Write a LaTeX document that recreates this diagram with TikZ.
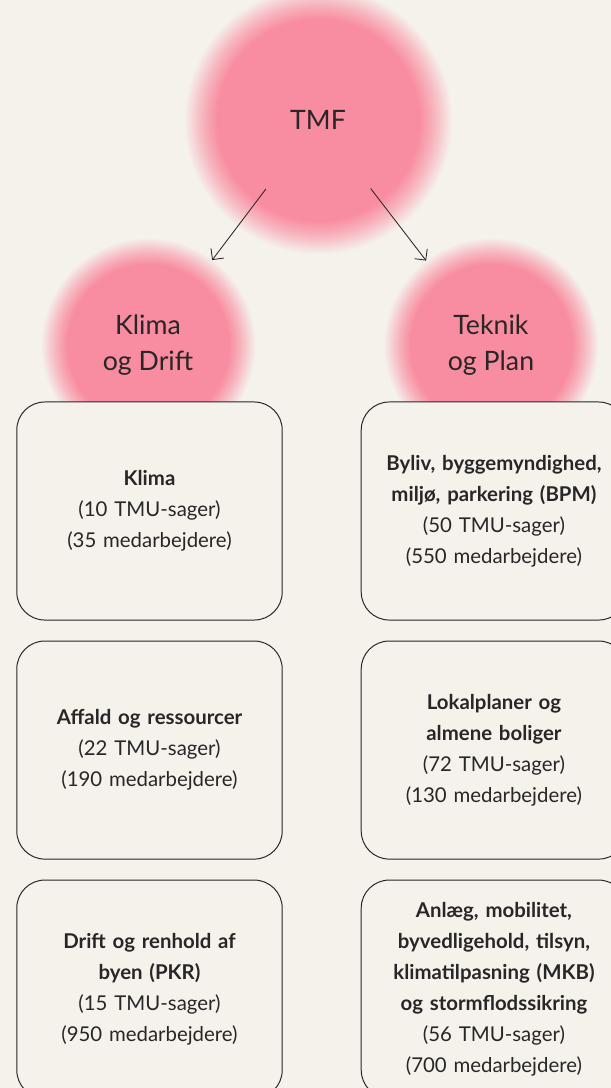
\documentclass[tikz,border=0pt]{standalone}
\usepackage{fontspec}
\setmainfont{Lato}
\usetikzlibrary{arrows.meta,positioning}

\definecolor{paper}{RGB}{245,242,236}
\definecolor{blobpink}{RGB}{248,140,160}
\definecolor{ink}{RGB}{40,38,38}

% soft pink disc, fading out at the rim
\pgfdeclareradialshading{blob}{\pgfpoint{0bp}{0bp}}{%
  color(0bp)=(blobpink); color(18bp)=(blobpink);
  color(21bp)=(blobpink!55!paper); color(24bp)=(paper); color(25bp)=(paper);
  color(50bp)=(paper)}

\begin{document}
\begin{tikzpicture}[
    x = 0.025cm, y = -0.025cm, % one unit is one pixel of the layout
    > = {Straight Barb[length=2mm,width=4mm]}, % thin open arrow head
    node distance = 0.5cm, % gap between the boxes
    semithick, % line style
    ink
    ]

    \tikzset{
    blob/.style = {circle, inner sep = 0pt, shading = blob, text = ink,
                   font = \fontsize{19}{26}\selectfont, align = center},
    box/.style = {draw = ink, line width = 0.7pt, fill = paper,
                  rounded corners = 0.7cm, minimum width = 6.625cm,
                  minimum height = 5.45cm, text width = 6.4cm, align = center,
                  font = \fontsize{14.5}{22}\selectfont, text = ink}
    }

    \fill[paper] (0,0) rectangle (611,1088);
    \useasboundingbox (0,0) rectangle (611,1088);
    \clip (0,0) rectangle (611,1088);

    % departments
    \node[blob, minimum size = 7cm] (tmf) at (318,120) {TMF};
    \node[blob, minimum size = 5.6cm] (klima) at (148,345) {Klima\\og Drift};
    \node[blob, minimum size = 5.6cm] (teknik) at (491,345) {Teknik\\og Plan};

    \path[->] (tmf) edge[shorten <= -1.35cm, shorten >= -0.15cm] (klima);
    \path[->] (tmf) edge[shorten <= -1.35cm, shorten >= -0.15cm] (teknik);

    % units under Klima og Drift
    \node[box] (k1) at (149.5,511)
        {\textbf{Klima}\\(10 TMU-sager)\\(35 medarbejdere)};
    \node[box] (k2) [below=of k1]
        {\textbf{Affald og ressourcer}\\(22 TMU-sager)\\(190 medarbejdere)};
    \node[box] (k3) [below=of k2]
        {\textbf{Drift og renhold af}\\\textbf{byen (PKR)}\\(15 TMU-sager)\\(950 medarbejdere)};

    % units under Teknik og Plan
    \node[box] (t1) [right=1.95cm of k1]
        {\textbf{Byliv, byggemyndighed,}\\\textbf{milj\o, parkering (BPM)}\\(50 TMU-sager)\\(550 medarbejdere)};
    \node[box] (t2) [below=of t1]
        {\textbf{Lokalplaner og}\\\textbf{almene boliger}\\(72 TMU-sager)\\(130 medarbejdere)};
    \node[box] (t3) [below=of t2]
        {\textbf{Anl\ae g, mobilitet,}\\\textbf{byvedligehold, tilsyn,}\\\textbf{klimatilpasning (MKB)}\\\textbf{og stormflodssikring}\\(56 TMU-sager)\\(700 medarbejdere)};
\end{tikzpicture}
\end{document}
